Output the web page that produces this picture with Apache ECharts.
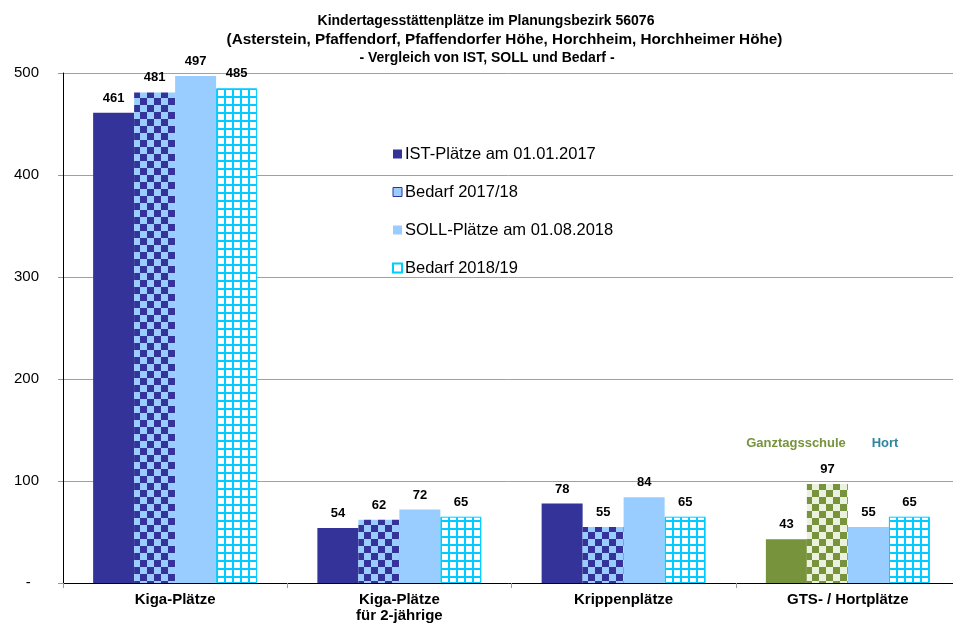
<!DOCTYPE html>
<html>
<head>
<meta charset="utf-8">
<script src="https://cdn.jsdelivr.net/npm/echarts@6/dist/echarts.min.js"></script>
<style>
html,body{margin:0;padding:0;background:#fff;}
#c{width:953px;height:627px;}
</style>
</head>
<body>
<div id="c"></div>
<script>
// ---- data ----
var categories = ['Kiga-Plätze', 'Kiga-Plätze\nfür 2-jährige', 'Krippenplätze', 'GTS- / Hortplätze'];
var seriesNames = ['IST-Plätze am 01.01.2017', 'Bedarf 2017/18', 'SOLL-Plätze am 01.08.2018', 'Bedarf 2018/19'];
var istValues = [461, 54, 78, 43];
var bedarf1718Values = [481, 62, 55, 97];
var sollValues = [497, 72, 84, 55];
var bedarf1819Values = [485, 65, 65, 65];
var yTicks = [0, 100, 200, 300, 400, 500];
var titleLines = [
  'Kindertagesstättenplätze im Planungsbezirk 56076',
  '(Asterstein, Pfaffendorf, Pfaffendorfer Höhe, Horchheim, Horchheimer Höhe)',
  '- Vergleich von IST, SOLL und Bedarf -'
];
var gtsLabel = 'Ganztagsschule';
var hortLabel = 'Hort';

// ---- styles ----
var DARK = '#333399', LIGHT = '#99CCFF', CYAN = '#00CCFF';
var GREEN = '#77933C', GREEN_LIGHT = '#EBF1DE', TEAL = '#31859C';
var FONT = 'Liberation Sans, Arial, sans-serif';

function checker(c1, c2, cell) {
  var cv = document.createElement('canvas');
  cv.width = cell * 2; cv.height = cell * 2;
  var ctx = cv.getContext('2d');
  ctx.fillStyle = c2; ctx.fillRect(0, 0, cell * 2, cell * 2);
  ctx.fillStyle = c1;
  ctx.fillRect(0, 0, cell, cell);
  ctx.fillRect(cell, cell, cell, cell);
  return { image: cv, repeat: 'repeat' };
}
function gridPattern(line, bg, size, lw) {
  var cv = document.createElement('canvas');
  cv.width = size; cv.height = size;
  var ctx = cv.getContext('2d');
  ctx.fillStyle = bg; ctx.fillRect(0, 0, size, size);
  ctx.fillStyle = line;
  ctx.fillRect(0, 0, lw, size);
  ctx.fillRect(0, 0, size, lw);
  return { image: cv, repeat: 'repeat' };
}

var blueChecker = checker(DARK, LIGHT, 7);
var greenChecker = checker(GREEN, GREEN_LIGHT, 7);
var cyanGrid = gridPattern(CYAN, '#FFFFFF', 8, 2);

var labelStyle = {
  show: true, position: 'top', distance: 8,
  fontFamily: FONT, fontWeight: 'bold', fontSize: 13, color: '#000'
};

function withOverrides(values, overrides) {
  return values.map(function (v, i) {
    if (overrides && overrides[i]) return { value: v, itemStyle: overrides[i] };
    return v;
  });
}

function titleLine(text, cx, top, size) {
  return {
    text: text, left: cx, top: top, textAlign: 'center',
    textStyle: { fontFamily: FONT, fontWeight: 'bold', fontSize: size, lineHeight: 18, color: '#000' }
  };
}

var chart = echarts.init(document.getElementById('c'), null, { renderer: 'canvas' });
chart.setOption({
  backgroundColor: '#ffffff',
  animation: false,
  title: [
    titleLine(titleLines[0], 481, 7, 14),
    titleLine(titleLines[1], 499.5, 26, 15.3),
    titleLine(titleLines[2], 482, 44, 14)
  ],
  legend: {
    orient: 'vertical', left: 387, top: 140,
    icon: 'rect', itemWidth: 9, itemHeight: 9, itemGap: 20,
    textStyle: { fontFamily: FONT, fontSize: 16.5, lineHeight: 18, color: '#000', padding: [0, 0, 0, -2] },
    data: [
      { name: seriesNames[0], itemStyle: { color: DARK } },
      { name: seriesNames[1], itemStyle: { color: LIGHT, borderColor: DARK, borderWidth: 1 } },
      { name: seriesNames[2], itemStyle: { color: LIGHT } },
      { name: seriesNames[3], itemStyle: { color: '#fff', borderColor: CYAN, borderWidth: 2 } }
    ]
  },
  grid: { left: 63, top: 73, width: 897, height: 510, containLabel: false, outerBoundsMode: 'none' },
  xAxis: {
    type: 'category', data: categories,
    axisLine: { lineStyle: { color: '#000', width: 1 } },
    axisTick: { show: true, length: 5, lineStyle: { color: '#999' } },
    axisLabel: { interval: 0, margin: 9, fontFamily: FONT, fontWeight: 'bold', fontSize: 15, lineHeight: 16, color: '#000' }
  },
  yAxis: {
    type: 'value', min: yTicks[0], max: yTicks[yTicks.length - 1], interval: yTicks[1] - yTicks[0],
    axisLine: { show: true, lineStyle: { color: '#000', width: 1 } },
    axisTick: { show: true, length: 5, lineStyle: { color: '#999' } },
    splitLine: { show: true, lineStyle: { color: '#A0A0A0', width: 1 } },
    axisLabel: {
      margin: 24, fontFamily: FONT, fontSize: 15, color: '#000',
      formatter: function (v) { return v === 0 ? '-  ' : String(v); }
    }
  },
  series: [
    { name: seriesNames[0], type: 'bar', barWidth: 41, barGap: '0%',
      itemStyle: { color: DARK }, label: labelStyle,
      data: withOverrides(istValues, [null, null, null, { color: GREEN }]) },
    { name: seriesNames[1], type: 'bar', barWidth: 41, barGap: '0%',
      itemStyle: { color: blueChecker }, label: labelStyle,
      data: withOverrides(bedarf1718Values, [null, null, null, { color: greenChecker }]) },
    { name: seriesNames[2], type: 'bar', barWidth: 41, barGap: '0%',
      itemStyle: { color: LIGHT }, label: labelStyle,
      data: sollValues },
    { name: seriesNames[3], type: 'bar', barWidth: 41, barGap: '0%',
      itemStyle: { color: cyanGrid, borderColor: CYAN, borderWidth: 1 }, label: labelStyle,
      data: bedarf1819Values }
  ],
  graphic: [
    { type: 'text', x: 796, y: 443, style: { text: gtsLabel, align: 'center', verticalAlign: 'middle', fill: GREEN,
      font: 'bold 13px "Liberation Sans", Arial, sans-serif' } },
    { type: 'text', x: 885, y: 443, style: { text: hortLabel, align: 'center', verticalAlign: 'middle', fill: TEAL,
      font: 'bold 13px "Liberation Sans", Arial, sans-serif' } }
  ]
});
</script>
</body>
</html>
